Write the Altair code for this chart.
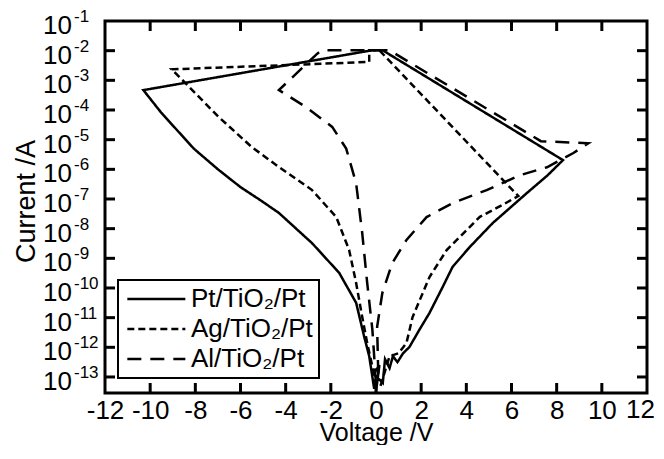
import altair as alt
import pandas as pd

W, H = 542, 372
FONT = "Liberation Sans"

names = ["Pt/TiO₂/Pt", "Ag/TiO₂/Pt", "Al/TiO₂/Pt"]

# Pt/TiO2/Pt (solid): voltage and log10(current)
pt_v = [0.0, 0.15, -0.1, 0.3, 0.4, 0.6, 0.75, 0.95, 1.2, 1.48, 1.92, 2.37, 2.95, 3.39, 4.15, 5.17, 6.68, 7.6, 8.28,
        0.3, -0.2, -10.3, -9.5, -8.07, -7.0, -6.0, -5.1, -4.3, -2.83, -1.63, -0.88, -0.52, -0.3, -0.08]
pt_e = [-13.5, -12.6, -12.9, -13.2, -12.4, -12.7, -12.3, -12.5, -12.2, -11.99, -11.41, -10.84, -9.97, -9.29, -8.62, -7.81, -6.8, -6.2, -5.69,
        -1.99, -1.99, -3.33, -4.1, -5.3, -6.0, -6.6, -7.05, -7.47, -8.49, -9.49, -10.5, -11.65, -12.3, -13.4]

# Ag/TiO2/Pt (short dash)
ag_v = [0.2, 0.4, 0.6, 1.0, 1.35, 1.62, 2.37, 3.13, 4.6, 5.6, 6.3,
        0.15, -0.3, -0.3, -9.05, -8.43, -6.96, -5.5, -4.3, -2.83, -1.76, -1.19, -0.88, -0.61, -0.39, -0.16, 0.0]
ag_e = [-13.3, -12.8, -12.3, -12.2, -11.85, -10.98, -9.63, -8.72, -7.6, -7.2, -6.9,
        -1.99, -1.99, -2.38, -2.63, -3.1, -4.24, -5.25, -5.92, -6.7, -7.61, -8.72, -9.83, -10.98, -11.85, -12.65, -13.4]

# Al/TiO2/Pt (long dash)
al_v = [0.1, 0.05, 0.28, 0.72, 1.35, 2.24, 3.39, 4.9, 6.37, 7.57, 8.74, 9.4,
        7.3, 0.6, -2.4, -2.6, -4.3, -3.1, -1.94, -1.32, -0.88, -0.61, -0.39, -0.16, -0.05, 0.0]
al_e = [-12.9, -11.31, -10.17, -9.16, -8.38, -7.61, -7.14, -6.7, -6.2, -5.93, -5.45, -5.12,
        -5.05, -1.99, -1.99, -2.1, -3.33, -3.9, -4.57, -5.3, -6.47, -8.15, -9.83, -11.41, -12.65, -13.3]

x_ticks = list(range(-12, 13, 2))
y_exps = list(range(-1, -14, -1))

rows = []
for name, vs, es in [(names[0], pt_v, pt_e), (names[1], ag_v, ag_e), (names[2], al_v, al_e)]:
    for i, (v, e) in enumerate(zip(vs, es)):
        rows.append({"series": name, "V": v, "I": 10 ** e, "order": i})
df = pd.DataFrame(rows)

xscale = alt.Scale(domain=[-12, 12], nice=False, zero=False)
yscale = alt.Scale(type="log", domain=[10 ** -13.54, 0.1], nice=False)

LABEL_PAD = 4
xaxis = alt.Axis(values=x_ticks[:-1], ticks=False, domain=False, grid=False, labelFontSize=26, labelPadding=LABEL_PAD,
                 labelFlush=False, labelOverlap=False, labelExpr="datum.value + ''",
                 title="Voltage /V", titleFontSize=25, titleBaseline="alphabetic", titleY=47)
yaxis = alt.Axis(labels=False, ticks=False, domain=False, grid=False, title="Current /A", titleFontSize=27,
                 titleBaseline="alphabetic", titleX=-71, titleY=180, titleAngle=270)

lines = alt.Chart(df).mark_line(strokeWidth=2.5, color="black", clip=True).encode(
    x=alt.X("V:Q", scale=xscale, axis=xaxis),
    y=alt.Y("I:Q", scale=yscale, axis=yaxis),
    strokeDash=alt.StrokeDash("series:N", scale=alt.Scale(domain=names, range=[[1, 0], [7, 4], [14, 9]]),
                              legend=alt.Legend(title=None, orient="none", legendX=13, legendY=259,
                                                symbolType="M-1,0H5", symbolSize=374, symbolStrokeWidth=2.5,
                                                symbolStrokeColor="black", labelFontSize=26, labelFont=FONT,
                                                labelColor="black", labelOffset=41, padding=6, rowPadding=4,
                                                fillColor="white", strokeColor="black", labelLimit=400)),
    order="order:Q",
)

# last x label drawn as text so it stays inside the page
lastlab = pd.DataFrame({"V": x_ticks[-1:], "t": [str(x_ticks[-1])]})
xlast = alt.Chart(lastlab).mark_text(align="right", baseline="top", fontSize=26, font=FONT, color="black", dx=8).encode(
    x=alt.X("V:Q", scale=xscale, axis=xaxis), y=alt.value(H + LABEL_PAD), text="t:N")

ydf = pd.DataFrame({"I": [10 ** e for e in y_exps], "base": ["10"] * len(y_exps), "sup": [str(e) for e in y_exps]})
ybase = alt.Chart(ydf).mark_text(align="left", baseline="middle", fontSize=26, font=FONT, color="black", dy=5).encode(
    x=alt.value(-62), y=alt.Y("I:Q", scale=yscale, axis=yaxis), text="base:N")
ysup = alt.Chart(ydf).mark_text(align="left", baseline="middle", fontSize=17, font=FONT, color="black", dy=-4).encode(
    x=alt.value(-31), y=alt.Y("I:Q", scale=yscale, axis=yaxis), text="sup:N")

xt = pd.DataFrame({"V": x_ticks[1:-1]})
yt = pd.DataFrame({"I": [10 ** e for e in y_exps[1:]]})
tb = alt.Chart(xt).mark_rule(strokeWidth=3, color="black").encode(
    x=alt.X("V:Q", scale=xscale, axis=xaxis), y=alt.value(H), y2=alt.value(H - 10))
tt = alt.Chart(xt).mark_rule(strokeWidth=3, color="black").encode(
    x=alt.X("V:Q", scale=xscale, axis=xaxis), y=alt.value(0), y2=alt.value(10))
tl = alt.Chart(yt).mark_rule(strokeWidth=3, color="black").encode(
    y=alt.Y("I:Q", scale=yscale, axis=yaxis), x=alt.value(0), x2=alt.value(10))
tr = alt.Chart(yt).mark_rule(strokeWidth=3, color="black").encode(
    y=alt.Y("I:Q", scale=yscale, axis=yaxis), x=alt.value(W), x2=alt.value(W - 10))

chart = alt.layer(lines, tb, tt, tl, tr, ybase, ysup, xlast).properties(
    width=W, height=H,
    padding={"left": 97, "top": 13, "right": 9, "bottom": 52},
    autosize=alt.AutoSizeParams(type="none"),
).configure_view(stroke="black", strokeWidth=3).configure_axis(
    labelFont=FONT, titleFont=FONT, labelColor="black", titleColor="black", titleFontWeight="normal"
).configure_legend(strokeWidth=2)

chart.save("out.html", embed_options={"renderer": "svg", "actions": False})
